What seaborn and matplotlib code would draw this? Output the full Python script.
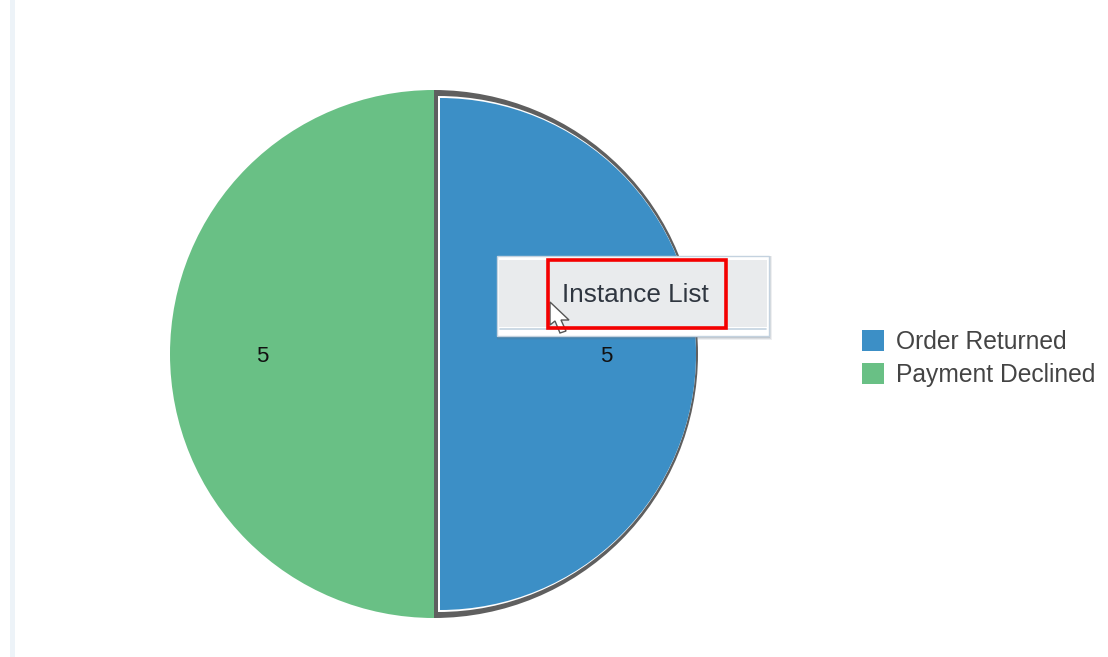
import matplotlib
matplotlib.use("Agg")
import matplotlib.pyplot as plt
import matplotlib.patches as mp
import seaborn as sns

sns.set_theme(style="white")
plt.rcParams['font.family'] = ['Liberation Sans', 'DejaVu Sans']

# data
categories = ["Order Returned", "Payment Declined"]
values = [5, 5]
colors = ["#3c8fc6", "#69c085"]
menu_label = "Instance List"

W, H = 1108, 657
fig = plt.figure(figsize=(W / 100, H / 100), dpi=100, facecolor="white")
ax = fig.add_axes([0, 0, 1, 1])

cx, cy, R = 434, H - 354, 264
none = (0, 0, 0, 0)
kw = dict(startangle=90, counterclock=False, wedgeprops=dict(linewidth=0))

# base pie: selected slice is dark (its outline), the other green; value labels
_, _, autotexts = ax.pie(
    values, colors=["#5f5f5f", colors[1]], center=(cx, cy), radius=R,
    autopct=lambda p: f"{p / 100 * sum(values):.0f}", pctdistance=0.652, **kw)
for t in autotexts:
    t.set_fontsize(16)
    t.set_color("#111111")
    t.set_zorder(3)
    t.set_y(t.get_position()[1] - 3)
# white inner outline of the selected slice
ax.pie(values, colors=["white", none], center=(cx + 4, cy), radius=R - 6, **kw)
# selected slice fill
ax.pie(values, colors=[colors[0], none], center=(cx + 6, cy), radius=R - 8, **kw)

ax.set_xlim(0, W)
ax.set_ylim(0, H)
ax.set_aspect("equal")
ax.axis("off")


def rect(x0, y0, x1, y1, **k):
    ax.add_patch(mp.Rectangle((x0, H - y1), x1 - x0, y1 - y0, **k))


# left page stripe
rect(10, 0, 15, H, fc="#edf3f8", ec="none", zorder=1)

# context menu
for off, alpha in [(4, 0.10), (3, 0.14), (2, 0.18)]:
    rect(497, 256, 768 + off, 336 + off, fc="#5a6a7a", ec="none", alpha=alpha, zorder=5)
rect(497, 256, 769, 336, fc="white", ec="#c4d2df", lw=1, zorder=6)
rect(499, 260, 767, 327, fc="#e9ebed", ec="none", zorder=6)
ax.plot([500, 766], [H - 328.5, H - 328.5], color="#c3d3e0", lw=1.2, zorder=6)
ax.text(635.5, H - 295, menu_label, ha="center", va="center", fontsize=18.8,
        color="#2f3640", zorder=8)
# mouse cursor
arrow = [(550, 302), (550, 325), (555, 321), (560, 333), (566, 331), (561, 320), (569, 320)]
ax.add_patch(mp.Polygon([(x, H - y) for x, y in arrow], closed=True, fc="white",
                        ec="#555555", lw=1, zorder=7))
# red highlight box
rect(548, 259.5, 726, 328, fc="none", ec="#f40000", lw=2.6, zorder=9)

# legend
handles = [mp.Patch(fc=c, ec="none") for c in colors]
leg = ax.legend(handles, categories, loc="upper left",
                bbox_to_anchor=(855 / W, 1 - 322.5 / H), frameon=False,
                fontsize=17.7, labelcolor="#444444", handlelength=0.88, handleheight=0.95,
                handletextpad=0.5, labelspacing=0.35, borderpad=0.3, borderaxespad=0)

fig.savefig("out.png", dpi=100, facecolor="white")
